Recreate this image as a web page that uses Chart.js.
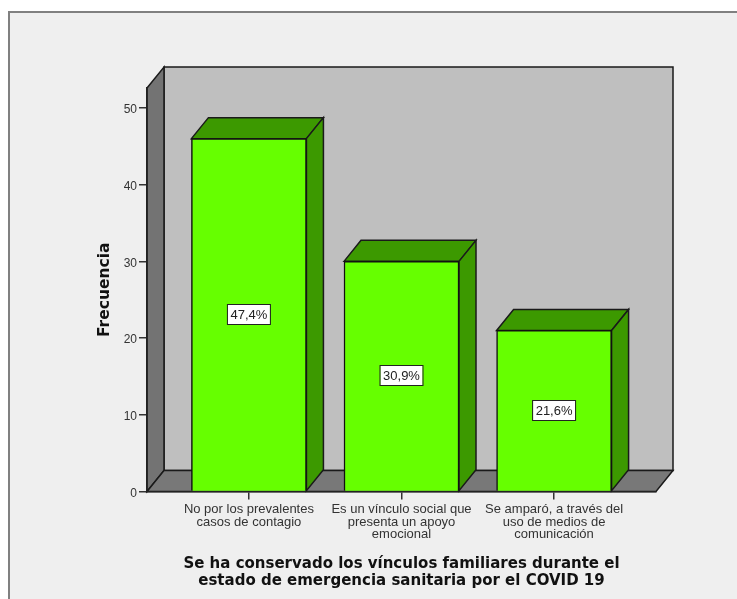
<!DOCTYPE html>
<html>
<head>
<meta charset="utf-8">
<script src="https://cdn.jsdelivr.net/npm/chart.js@4"></script>
<style>
body { margin: 0; background: #fff; }
canvas { display: block; }
</style>
</head>
<body>
<canvas id="grafico" width="737" height="599"></canvas>
<script>
var categorias = [
  ['No por los prevalentes', 'casos de contagio'],
  ['Es un vínculo social que', 'presenta un apoyo', 'emocional'],
  ['Se amparó, a través del', 'uso de medios de', 'comunicación']
];
var frecuencias = [46, 30, 21];
var porcentajes = ['47,4%', '30,9%', '21,6%'];
var tituloX = ['Se ha conservado los vínculos familiares durante el', 'estado de emergencia sanitaria por el COVID 19'];
var tituloY = 'Frecuencia';

var fundoX = 17, fundoY = 21; // profundidad del efecto 3D

function cara(ctx, pts, relleno, borde, grosor) {
  ctx.beginPath();
  ctx.moveTo(pts[0][0], pts[0][1]);
  for (var i = 1; i < pts.length; i++) ctx.lineTo(pts[i][0], pts[i][1]);
  ctx.closePath();
  ctx.fillStyle = relleno;
  ctx.fill();
  ctx.lineWidth = grosor || 1.5;
  ctx.strokeStyle = borde || '#1a1a1a';
  ctx.stroke();
}

var efecto3d = {
  id: 'efecto3d',
  beforeDraw: function (chart) {
    var c = chart.ctx, a = chart.chartArea;
    // fondo y marco
    c.save();
    c.fillStyle = '#fff';
    c.fillRect(0, 0, 737, 599);
    c.fillStyle = '#efefef';
    c.fillRect(9, 12, 740, 600);
    c.strokeStyle = '#808080';
    c.lineWidth = 2;
    c.strokeRect(9, 12, 740, 600);
    // paredes
    cara(c, [[a.left + fundoX, a.top - fundoY], [a.right + fundoX, a.top - fundoY], [a.right + fundoX, a.bottom - fundoY], [a.left + fundoX, a.bottom - fundoY]], '#bfbfbf');
    cara(c, [[a.left, a.top], [a.left + fundoX, a.top - fundoY], [a.left + fundoX, a.bottom - fundoY], [a.left, a.bottom]], '#737373');
    cara(c, [[a.left, a.bottom], [a.left + fundoX, a.bottom - fundoY], [a.right + fundoX, a.bottom - fundoY], [a.right, a.bottom]], '#787878');
    c.restore();
  },
  beforeDatasetsDraw: function (chart) {
    var c = chart.ctx;
    c.save();
    chart.getDatasetMeta(0).data.forEach(function (b) {
      var x0 = b.x - b.width / 2, x1 = b.x + b.width / 2;
      cara(c, [[x0, b.y], [x0 + fundoX, b.y - fundoY], [x1 + fundoX, b.y - fundoY], [x1, b.y]], '#3c9900');
      cara(c, [[x1, b.y], [x1 + fundoX, b.y - fundoY], [x1 + fundoX, b.base - fundoY], [x1, b.base]], '#3c9900');
    });
    c.restore();
  },
  afterDatasetsDraw: function (chart) {
    var c = chart.ctx;
    c.save();
    c.font = '13px "Liberation Sans"';
    c.textAlign = 'center';
    c.textBaseline = 'middle';
    chart.getDatasetMeta(0).data.forEach(function (b, i) {
      var cy = Math.round((b.y + b.base) / 2);
      c.fillStyle = '#fff';
      c.fillRect(b.x - 21, cy - 10, 42, 20);
      c.strokeStyle = '#222';
      c.lineWidth = 1;
      c.strokeRect(b.x - 21.5, cy - 10.5, 43, 20);
      c.fillStyle = '#222';
      c.fillText(porcentajes[i], b.x, cy + 0.5);
    });
    c.restore();
  }
};

new Chart(document.getElementById('grafico').getContext('2d'), {
  type: 'bar',
  plugins: [efecto3d],
  data: {
    datasets: [{
      data: frecuencias.map(function (v, i) { return { x: i, y: v }; }),
      backgroundColor: '#66ff00',
      borderColor: '#111',
      borderWidth: 1.5,
      barThickness: 115
    }]
  },
  options: {
    responsive: false,
    animation: false,
    layout: { padding: { top: 88, right: 81, left: 0, bottom: 0 } },
    plugins: { legend: { display: false }, tooltip: { enabled: false } },
    scales: {
      x: {
        type: 'linear',
        offset: false,
        min: -0.668,
        max: 2.668,
        afterBuildTicks: function (eje) {
          eje.ticks = categorias.map(function (t, i) { return { value: i }; });
        },
        afterFit: function (eje) { eje.height = 107.5; },
        grid: { offset: false, drawOnChartArea: false, tickLength: 8, color: '#333', lineWidth: 1.5 },
        border: { color: '#222', width: 1.5 },
        ticks: {
          maxRotation: 0,
          autoSkip: false,
          padding: 4,
          color: '#333',
          font: { family: '"Liberation Sans"', size: 13, lineHeight: 0.96 },
          callback: function (v) { return categorias[v]; }
        },
        title: {
          display: true,
          text: tituloX,
          color: '#111',
          padding: { top: 0, bottom: 10 },
          font: { family: '"DejaVu Sans"', size: 15, weight: 'bold', lineHeight: 1.1 }
        }
      },
      y: {
        min: 0,
        max: 52.6,
        afterBuildTicks: function (eje) {
          eje.ticks = [0, 10, 20, 30, 40, 50].map(function (v) { return { value: v }; });
        },
        afterFit: function (eje) { eje.width = 147; },
        grid: { drawOnChartArea: false, tickLength: 8, color: '#333', lineWidth: 1.5 },
        border: { color: '#222', width: 1.5 },
        ticks: {
          padding: 2,
          labelOffset: 2,
          color: '#333',
          font: { family: '"Liberation Sans"', size: 12 }
        },
        title: {
          display: true,
          text: tituloY,
          color: '#111',
          padding: { top: 96, bottom: 0 },
          font: { family: '"DejaVu Sans"', size: 15.5, weight: 'bold' }
        }
      }
    }
  }
});
</script>
</body>
</html>
